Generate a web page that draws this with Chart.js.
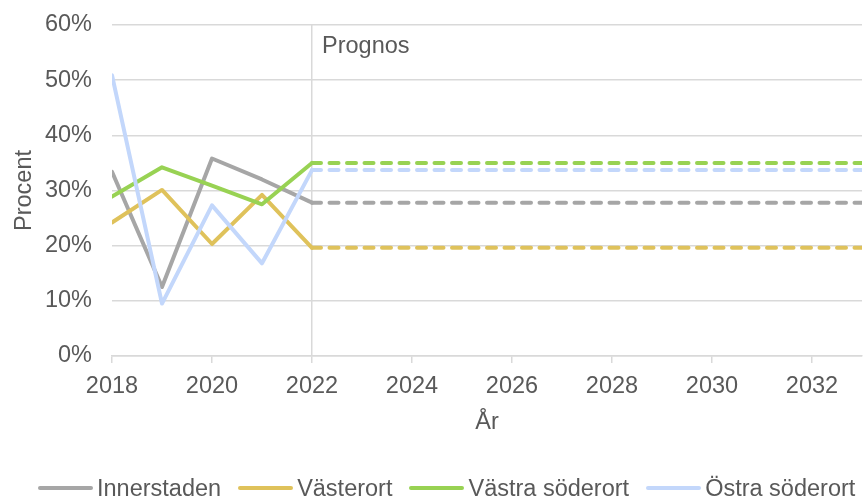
<!DOCTYPE html>
<html>
<head>
<meta charset="utf-8">
<script src="https://cdn.jsdelivr.net/npm/chart.js@4/dist/chart.umd.min.js"></script>
<style>
  html, body { margin: 0; padding: 0; background: #fff; }
  #wrap { position: relative; width: 866px; height: 498px; overflow: hidden; }
  #legend {
    position: absolute; left: 38px; top: 474px; display: flex; align-items: center;
    font-family: "Liberation Sans", Arial, sans-serif; font-size: 23.5px; color: #595959;
    white-space: nowrap; line-height: 28px;
  }
  .item { display: flex; align-items: center; margin-right: 17px; }
  .swatch { width: 55px; height: 4px; border-radius: 2px; margin-right: 4px; }
</style>
</head>
<body>
<div id="wrap">
  <canvas id="chart" width="866" height="498"></canvas>
  <div id="legend"></div>
</div>
<script>
// data
const years = [2018, 2019, 2020, 2021, 2022];
const seriesNames = ["Innerstaden", "Västerort", "Västra söderort", "Östra söderort"];
const innerstaden = [33.4, 12.5, 35.8, 32.0, 27.8];
const vasterort = [24.2, 30.1, 20.3, 29.2, 19.6];
const vastraSoderort = [28.9, 34.2, 30.9, 27.5, 35.0];
const ostraSoderort = [50.9, 9.5, 27.3, 16.8, 33.7];
// forecast: flat from 2022 to end of the axis
const prognosYears = [2022, 2033];
const prognosValues = [27.8, 19.6, 35.0, 33.7];
const yTicks = [0, 10, 20, 30, 40, 50, 60];
const xTicks = [2018, 2020, 2022, 2024, 2026, 2028, 2030, 2032];
const prognosLabel = "Prognos";

const colors = ["#A6A6A6", "#DFC25B", "#98D253", "#C3D7FB"];
const FONT = "'Liberation Sans', Arial, sans-serif";
const SIZE = 23.5;

const history = [innerstaden, vasterort, vastraSoderort, ostraSoderort];
const datasets = [];
history.forEach((vals, i) => {
    datasets.push({
        label: seriesNames[i],
        data: years.map((y, k) => ({ x: y, y: vals[k] })),
        borderColor: colors[i],
        borderWidth: 4,
        borderJoinStyle: "round",
        borderCapStyle: "round",
        pointRadius: 0,
        tension: 0,
        order: 3 - i
    });
    datasets.push({
        label: seriesNames[i] + " prognos",
        data: prognosYears.map(y => ({ x: y, y: prognosValues[i] })),
        borderColor: colors[i],
        borderWidth: 4,
        borderDash: [9, 8.5],
        borderCapStyle: "round",
        pointRadius: 0,
        order: 3 - i
    });
});

// vertical line label
const prognosPlugin = {
    id: "prognos",
    afterDraw(chart) {
        const ctx = chart.ctx;
        const x = chart.scales.x.getPixelForValue(prognosYears[0]);
        ctx.save();
        ctx.font = SIZE + "px " + FONT;
        ctx.fillStyle = "#595959";
        ctx.textBaseline = "alphabetic";
        ctx.fillText(prognosLabel, x + 10, chart.chartArea.top + 28);
        ctx.restore();
    }
};

new Chart(document.getElementById("chart"), {
    type: "line",
    data: { datasets: datasets },
    options: {
        responsive: false,
        animation: false,
        layout: { padding: { top: 25, right: 4, bottom: 61, left: 0 } },
        plugins: { legend: { display: false }, tooltip: { enabled: false } },
        scales: {
            x: {
                type: "linear",
                min: 2018,
                max: 2033,
                afterBuildTicks: s => { s.ticks = xTicks.map(v => ({ value: v })); },
                afterFit: s => { s.height = 81; s.paddingLeft = 0; s.paddingRight = 0; },
                ticks: { color: "#595959", font: { family: FONT, size: SIZE }, padding: 9, maxRotation: 0, callback: v => String(v) },
                grid: {
                    color: c => (c.tick && c.tick.value === prognosYears[0]) ? "#D9D9D9" : "rgba(0,0,0,0)",
                    tickColor: "#D9D9D9",
                    tickLength: 7,
                    lineWidth: 1.5
                },
                border: { color: "#D9D9D9", width: 1.5 },
                title: { display: true, text: "År", color: "#595959", font: { family: FONT, size: SIZE }, padding: 0 }
            },
            y: {
                min: 0,
                max: 60,
                afterBuildTicks: s => { s.ticks = yTicks.map(v => ({ value: v })); },
                afterFit: s => { s.width = 112; s.paddingTop = 0; s.paddingBottom = 0; },
                ticks: { color: "#595959", font: { family: FONT, size: SIZE }, padding: 20, callback: v => v + "%" },
                grid: { color: "#D9D9D9", lineWidth: 1.5, drawTicks: false },
                border: { display: false },
                title: { display: true, text: "Procent", color: "#595959", font: { family: FONT, size: SIZE }, padding: { top: 10, bottom: 0 } }
            }
        }
    },
    plugins: [prognosPlugin]
});

// legend as real html text
const legend = document.getElementById("legend");
seriesNames.forEach((name, i) => {
    const item = document.createElement("div");
    item.className = "item";
    item.innerHTML = `<span class="swatch" style="background:${colors[i]}"></span><span>${name}</span>`;
    legend.appendChild(item);
});
</script>
</body>
</html>
